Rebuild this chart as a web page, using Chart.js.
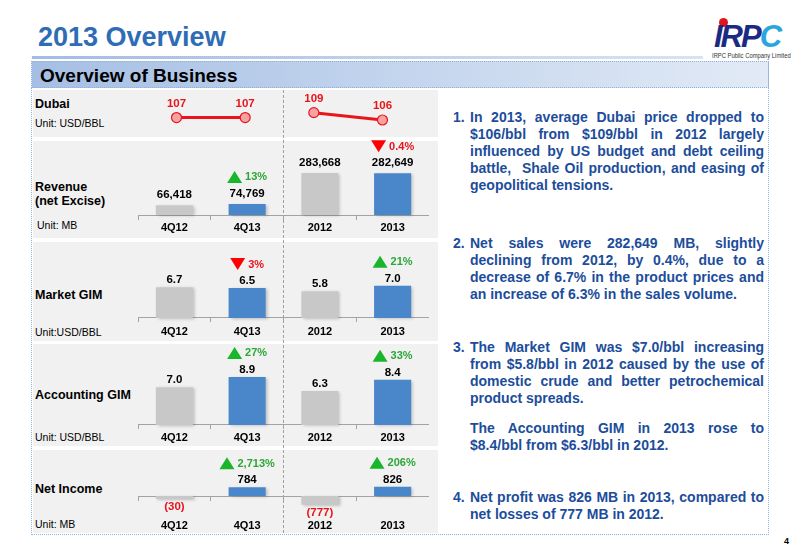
<!DOCTYPE html>
<html><head><meta charset="utf-8">
<script src="https://cdn.jsdelivr.net/npm/chart.js@4.4.0/dist/chart.umd.min.js"></script>
<style>
html,body{margin:0;padding:0;background:#fff;}
body{width:800px;height:554px;position:relative;overflow:hidden;font-family:"Liberation Sans",Arial,sans-serif;}
.a{position:absolute;white-space:nowrap;}
.panel{position:absolute;left:33px;width:405px;background:#F1F1F1;}
.rl{position:absolute;left:35px;font-weight:bold;font-size:12.5px;line-height:15px;color:#000;white-space:nowrap;}
.ru{position:absolute;left:35px;font-size:10.5px;line-height:13px;color:#000;white-space:nowrap;}
.para{position:absolute;left:470px;width:294px;font-weight:bold;font-size:14px;line-height:17.2px;color:#1C4D9B;}
.para .num{position:absolute;left:-17px;top:0;}
.ln{display:block;text-align:left;}
.j{text-align:justify;text-align-last:justify;}
canvas{position:absolute;}
</style></head><body>

<div class="a" style="left:38px;top:24px;font-weight:bold;font-size:27px;line-height:27px;color:#2E6DB5;">2013 Overview</div>
<div class="a" style="left:32px;top:56px;width:671px;height:3px;background:linear-gradient(to right,#A3BCE2,#D8E3F2);"></div>

<!-- logo -->
<div class="a" style="left:719px;top:18px;width:9px;height:9px;border-radius:50%;background:#E3141B;"></div>
<div class="a" style="left:714px;top:21px;font-weight:bold;font-style:italic;font-size:31px;line-height:31px;letter-spacing:-2px;"><span style="color:#1B2B84">IRP</span><span style="color:#2AA6DE">C</span></div>
<div class="a" style="left:712px;top:52px;font-size:6.5px;line-height:7px;color:#333;transform:scaleX(0.9);transform-origin:left top;">IRPC Public Company Limited</div>

<!-- header box -->
<div class="a" style="left:31px;top:61px;width:736px;height:25px;border:1px dotted #8FB1DE;background:linear-gradient(to right,#A5BFE4,#E2EAF6);"></div>
<div class="a" style="left:40px;top:65.5px;font-weight:bold;font-size:19px;line-height:19px;color:#000;">Overview of Business</div>

<!-- content box -->
<div class="a" style="left:31px;top:87px;width:736px;height:447px;border:1px dotted #8FB1DE;border-top:none;"></div>

<!-- left panels -->
<div class="panel" style="top:90px;height:47px;"></div>
<div class="panel" style="top:141px;height:97px;"></div>
<div class="panel" style="top:242px;height:99px;"></div>
<div class="panel" style="top:344px;height:102px;"></div>
<div class="panel" style="top:450px;height:83px;"></div>
<div class="a" style="left:283px;top:90px;height:443px;border-left:1px dashed #A0A0A0;"></div>

<div class="rl" style="top:97px;">Dubai</div>
<div class="ru" style="top:116.7px;">Unit: USD/BBL</div>
<div class="rl" style="top:179.7px;">Revenue</div>
<div class="rl" style="top:193.7px;">(net Excise)</div>
<div class="ru" style="top:218.7px;left:37px;">Unit: MB</div>
<div class="rl" style="top:287.7px;">Market GIM</div>
<div class="ru" style="top:325.7px;">Unit:USD/BBL</div>
<div class="rl" style="top:387.7px;">Accounting GIM</div>
<div class="ru" style="top:430.7px;">Unit: USD/BBL</div>
<div class="rl" style="top:481.7px;">Net Income</div>
<div class="ru" style="top:517.7px;">Unit: MB</div>

<canvas id="cDubai" width="287" height="47" style="left:136px;top:90px;"></canvas>
<canvas id="cRev" width="291" height="106" style="left:138px;top:132px;"></canvas>
<canvas id="cMkt" width="291" height="99" style="left:138px;top:242px;"></canvas>
<canvas id="cAcc" width="291" height="102" style="left:138px;top:344px;"></canvas>
<canvas id="cNet" width="291" height="83" style="left:138px;top:450px;"></canvas>

<!-- right text -->
<div class="para" style="top:108.5px;">
  <span class="num">1.</span>
  <span class="ln j">In 2013, average Dubai price dropped to</span>
  <span class="ln j">$106/bbl from $109/bbl in 2012 largely</span>
  <span class="ln j">influenced by US budget and debt ceiling</span>
  <span class="ln j">battle, &nbsp;Shale Oil production, and easing of</span>
  <span class="ln">geopolitical tensions.</span>
</div>
<div class="para" style="top:234.5px;">
  <span class="num">2.</span>
  <span class="ln j">Net sales were 282,649 MB, slightly</span>
  <span class="ln j">declining from 2012, by 0.4%, due to a</span>
  <span class="ln j">decrease of 6.7% in the product prices and</span>
  <span class="ln">an increase of 6.3% in the sales volume.</span>
</div>
<div class="para" style="top:338.5px;">
  <span class="num">3.</span>
  <span class="ln j">The Market GIM was $7.0/bbl increasing</span>
  <span class="ln j">from $5.8/bbl in 2012 caused by the use of</span>
  <span class="ln j">domestic crude and better petrochemical</span>
  <span class="ln">product spreads.</span>
</div>
<div class="para" style="top:419.5px;">
  <span class="ln j">The Accounting GIM in 2013 rose to</span>
  <span class="ln">$8.4/bbl from $6.3/bbl in 2012.</span>
</div>
<div class="para" style="top:488.5px;">
  <span class="num">4.</span>
  <span class="ln j">Net profit was 826 MB in 2013, compared to</span>
  <span class="ln">net losses of 777 MB in 2012.</span>
</div>

<div class="a" style="left:784px;top:536px;font-weight:bold;font-size:9px;line-height:10px;color:#000;">4</div>

<script>
// ---------- data ----------
const categories = ['4Q12', '4Q13', '2012', '2013'];
const dubaiQuarterly = [107, 107, null, null];
const dubaiAnnual = [null, null, 109, 106];
const revenueValues = [66418, 74769, 283668, 282649];
const revenueChange = [null, '13%', null, '0.4%'];
const revenueDirection = [null, 'up', null, 'down'];
const marketGimValues = [6.7, 6.5, 5.8, 7.0];
const marketGimChange = [null, '3%', null, '21%'];
const marketGimDirection = [null, 'down', null, 'up'];
const accountingGimValues = [7.0, 8.9, 6.3, 8.4];
const accountingGimChange = [null, '27%', null, '33%'];
const accountingGimDirection = [null, 'up', null, 'up'];
const netIncomeValues = [-30, 784, -777, 826];
const netIncomeChange = [null, '2,713%', null, '206%'];
const netIncomeDirection = [null, 'up', null, 'up'];

// ---------- styles ----------
const FONT = '"Liberation Sans", Arial, sans-serif';
const GRAY = '#C8C8C8';
const BLUE = '#4A86CA';
const barColors = [GRAY, BLUE, GRAY, BLUE];
const RED = '#E8141B';
const GREEN_TRI = '#19B52B';
const GREEN_TXT = '#2CA637';

function fmtThousands(v) {
  const s = Math.abs(v).toString().replace(/\B(?=(\d{3})+(?!\d))/g, ',');
  return v < 0 ? '(' + s + ')' : s;
}
function fmtOne(v) { return v < 0 ? '(' + Math.abs(v).toFixed(1) + ')' : v.toFixed(1); }

function shadowPlugin() {
  return {
    id: 'shadow',
    beforeDatasetDraw(chart) {
      const ctx = chart.ctx;
      ctx.save();
      ctx.shadowColor = 'rgba(0,0,0,0.22)';
      ctx.shadowBlur = 3;
      ctx.shadowOffsetX = 2;
      ctx.shadowOffsetY = 1;
    },
    afterDatasetDraw(chart) { chart.ctx.restore(); }
  };
}

function labelPlugin(fmt, change, direction, gap) {
  return {
    id: 'barLabels',
    afterDatasetsDraw(chart) {
      const ctx = chart.ctx;
      const meta = chart.getDatasetMeta(0);
      const vals = chart.data.datasets[0].data;
      ctx.save();
      meta.data.forEach((el, i) => {
        const v = vals[i];
        const neg = v < 0;
        ctx.font = 'bold 11.5px ' + FONT;
        ctx.textAlign = 'center';
        ctx.textBaseline = 'middle';
        ctx.fillStyle = neg ? RED : '#000';
        const ly = neg ? el.y + 8 : el.y - gap;
        ctx.fillText(fmt(v), el.x, ly);
        if (change[i]) {
          const up = direction[i] === 'up';
          const gy = ly - 17;
          ctx.font = 'bold 11px ' + FONT;
          const tw = ctx.measureText(change[i]).width;
          const triW = 15, triH = 12, g = 3;
          const sx = el.x - (triW + g + tw) / 2;
          ctx.fillStyle = up ? GREEN_TRI : '#FF0000';
          ctx.beginPath();
          if (up) {
            ctx.moveTo(sx, gy + triH / 2);
            ctx.lineTo(sx + triW, gy + triH / 2);
            ctx.lineTo(sx + triW / 2, gy - triH / 2);
          } else {
            ctx.moveTo(sx, gy - triH / 2);
            ctx.lineTo(sx + triW, gy - triH / 2);
            ctx.lineTo(sx + triW / 2, gy + triH / 2);
          }
          ctx.closePath();
          ctx.fill();
          ctx.fillStyle = up ? GREEN_TXT : RED;
          ctx.textAlign = 'left';
          ctx.fillText(change[i], sx + triW + g, gy + 0.5);
        }
      });
      ctx.restore();
    }
  };
}

function barChart(id, values, change, direction, yMin, yMax, tickPad, fmt, gap, minLen) {
  return new Chart(document.getElementById(id), {
    type: 'bar',
    data: {
      labels: categories,
      datasets: [{
        data: values,
        backgroundColor: barColors,
        borderWidth: 0,
        barPercentage: 0.51,
        categoryPercentage: 1,
        minBarLength: minLen || 0
      }]
    },
    options: {
      responsive: false,
      animation: false,
      devicePixelRatio: 1,
      layout: { padding: 0 },
      plugins: { legend: { display: false }, tooltip: { enabled: false } },
      scales: {
        x: {
          position: { y: 0 },
          offset: true,
          grid: { drawOnChartArea: false, offset: true, tickLength: 4, color: '#A3A3A3', lineWidth: 1 },
          border: { display: true, color: '#A3A3A3', width: 1 },
          ticks: { padding: tickPad, color: '#000', font: { family: FONT, size: 11, weight: 'bold' } }
        },
        y: { display: false, min: yMin, max: yMax }
      }
    },
    plugins: [shadowPlugin(), labelPlugin(fmt, change, direction, gap)]
  });
}

// Dubai line chart
const dubaiLabelPlugin = {
  id: 'dubaiLabels',
  afterDatasetsDraw(chart) {
    const ctx = chart.ctx;
    ctx.save();
    ctx.font = 'bold 11.5px ' + FONT;
    ctx.fillStyle = RED;
    ctx.textAlign = 'center';
    ctx.textBaseline = 'middle';
    chart.data.datasets.forEach((ds, di) => {
      chart.getDatasetMeta(di).data.forEach((el, i) => {
        if (ds.data[i] == null) return;
        ctx.fillText(String(ds.data[i]), el.x, el.y - 14);
      });
    });
    ctx.restore();
  }
};
const lineStyle = {
  borderColor: '#E8161C', borderWidth: 3, pointRadius: 5,
  pointBackgroundColor: '#F4A2A2', pointBorderColor: '#E8161C', pointBorderWidth: 1.2,
  spanGaps: false, tension: 0
};
new Chart(document.getElementById('cDubai'), {
  type: 'line',
  data: {
    labels: categories,
    datasets: [
      Object.assign({ data: dubaiQuarterly }, lineStyle),
      Object.assign({ data: dubaiAnnual }, lineStyle)
    ]
  },
  options: {
    responsive: false, animation: false, devicePixelRatio: 1,
    layout: { padding: 0 },
    plugins: { legend: { display: false }, tooltip: { enabled: false } },
    scales: {
      x: { display: false, offset: true },
      y: { display: false, min: 101.6, max: 115.7 }
    }
  },
  plugins: [dubaiLabelPlugin]
});

barChart('cRev', revenueValues, revenueChange, revenueDirection, -155340, 560600, 2, fmtThousands, 10, 0);
barChart('cMkt', marketGimValues, marketGimChange, marketGimDirection, -5.0, 16.52, 3, fmtOne, 7, 0);
barChart('cAcc', accountingGimValues, accountingGimChange, accountingGimDirection, -3.89, 15.0, 2, fmtOne, 7, 0);
barChart('cNet', netIncomeValues, netIncomeChange, netIncomeDirection, -3274, 4071, 19, fmtThousands, 7, 3);
</script>
</body></html>
